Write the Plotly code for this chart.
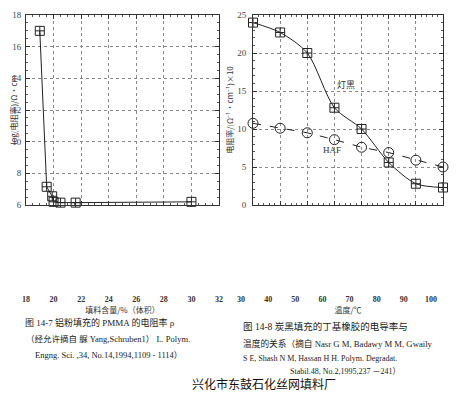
import plotly.graph_objects as go

# ---------------- data ----------------
# Left chart: Al-powder filled PMMA, log(resistivity) vs filler content
filler_pct = [19.0, 19.5, 19.9, 20.0, 20.5, 21.6, 30.0]
log_resistivity = [17.0, 7.15, 6.55, 6.2, 6.15, 6.15, 6.2]
left_x_ticks = [18, 20, 22, 24, 26, 28, 30, 32]
left_y_ticks = [6, 8, 10, 12, 14, 16, 18]

# Right chart: carbon-black filled butyl rubber, conductivity vs temperature
temperature_c = [30, 40, 50, 60, 70, 80, 90, 100]
lamp_black = [24.0, 22.7, 20.0, 12.8, 10.0, 5.6, 2.8, 2.3]
haf = [10.75, 10.1, 9.5, 8.6, 7.6, 6.9, 5.9, 5.0]
right_x_ticks = [30, 40, 50, 60, 70, 80, 90, 100]
right_y_ticks = [0, 5, 10, 15, 20, 25]

left_x_title = "填料含量/%（体积）"
left_y_title = "log(电阻率)/Ω·cm"
right_x_title = "温度/℃"
right_y_title = "电阻率/(Ω⁻¹·cm⁻¹)×10"

left_caption = [
    "图 14-7 铝粉填充的 PMMA 的电阻率 ρ",
    "（经允许摘自 脲 Yang,Schruben1） L. Polym.",
    "Engng. Sci. ,34, No.14,1994,1109 - 1114）",
]
right_caption = [
    "图 14-8 炭黑填充的丁基橡胶的电导率与",
    "温度的关系（摘自 Nasr G M, Badawy M M, Gwaily",
    "S E, Shash N M, Hassan H H. Polym. Degradat.",
    "Stabil.48, No.2,1995,237 －241）",
]
footer = "兴化市东鼓石化丝网填料厂"

# page has an 8px body margin before the figure
OFF = 8
W, H = 466 - OFF, 394 - OFF


def px(x):
    return (x - OFF) / W


def py(y):
    return 1 - (y - OFF) / H


SERIF = "Liberation Serif, Noto Sans CJK SC, serif"
CJK = "Noto Sans CJK SC, Liberation Serif"

fig = go.Figure()

fig.add_trace(go.Scatter(
    x=filler_pct, y=log_resistivity, mode="lines+markers",
    line=dict(color="#222", width=1),
    marker=dict(symbol="square-cross-open", size=9, color="#222", line=dict(width=1)),
    xaxis="x", yaxis="y", cliponaxis=False, showlegend=False, name="PMMA",
))
fig.add_trace(go.Scatter(
    x=temperature_c, y=lamp_black, mode="lines+markers",
    line=dict(color="#222", width=1, shape="spline", smoothing=0.8),
    marker=dict(symbol="square-cross-open", size=9, color="#222", line=dict(width=1)),
    xaxis="x2", yaxis="y2", cliponaxis=False, showlegend=False, name="灯黑",
))
fig.add_trace(go.Scatter(
    x=temperature_c, y=haf, mode="lines+markers",
    line=dict(color="#222", width=1, dash="8px,9px"),
    marker=dict(symbol="circle-open", size=10, color="#222", line=dict(width=1)),
    xaxis="x2", yaxis="y2", cliponaxis=False, showlegend=False, name="HAF",
))

common = dict(
    showline=True, linecolor="#333", linewidth=1, mirror="ticks",
    ticks="inside", ticklen=4, tickcolor="#333",
    showgrid=True, gridcolor="#8a8a8a", griddash="dot", gridwidth=1,
    zeroline=False, automargin=False,
)
xtickfont = dict(family=SERIF, size=8, color="#333", weight="bold")
ytickfont = dict(family=SERIF, size=9, color="#444")

fig.update_layout(
    width=W, height=H, margin=dict(l=0, r=0, t=0, b=0),
    paper_bgcolor="white", plot_bgcolor="white",
    xaxis=dict(
        common, domain=[px(26), px(219)], anchor="y", range=[18, 32],
        tickvals=left_x_ticks, ticktext=[str(v) for v in left_x_ticks],
        tickfont=xtickfont, ticklabelstandoff=86,
        minor=dict(ticks="inside", ticklen=2, tickcolor="#555", dtick=0.5, showgrid=False),
        title=dict(text=left_x_title, font=dict(family=CJK, size=8, color="#333"), standoff=3),
    ),
    yaxis=dict(
        common, domain=[py(205), py(15)], anchor="x", range=[6, 18],
        tickvals=left_y_ticks, ticktext=[str(v) for v in left_y_ticks],
        tickfont=ytickfont, ticklabelstandoff=2,
        minor=dict(ticks="inside", ticklen=2, tickcolor="#555", dtick=0.5, showgrid=False),
        title=dict(text=left_y_title, font=dict(family=CJK, size=8, color="#333"), standoff=0),
    ),
    xaxis2=dict(
        common, domain=[px(253), px(443)], anchor="y2", range=[30, 100],
        tickvals=right_x_ticks, ticktext=[str(v) for v in right_x_ticks],
        tickfont=xtickfont, ticklabelstandoff=86, ticklabelshift=-12,
        minor=dict(ticks="inside", ticklen=2, tickcolor="#555", dtick=2, showgrid=False),
        title=dict(text=right_x_title, font=dict(family=CJK, size=8, color="#333"), standoff=3),
    ),
    yaxis2=dict(
        common, domain=[py(205), py(15)], anchor="x2", range=[0, 25],
        tickvals=right_y_ticks, ticktext=[str(v) for v in right_y_ticks],
        tickfont=ytickfont, ticklabelstandoff=4,
        minor=dict(ticks="inside", ticklen=2, tickcolor="#555", dtick=1, showgrid=False),
        title=dict(text=right_y_title, font=dict(family=CJK, size=8, color="#333"), standoff=2),
    ),
)

# in-chart series labels
fig.add_annotation(x=64.3, y=15.8, xref="x2", yref="y2", text="灯黑", showarrow=False,
                   font=dict(family=CJK, size=9, color="#333"))
fig.add_annotation(x=59.1, y=7.2, xref="x2", yref="y2", text="HAF", showarrow=False,
                   font=dict(family=SERIF, size=9, color="#333"))

# captions
left_pos = [(23, 322, 9), (24, 339, 8.5), (33, 355, 8.5)]
for txt, (x0, y0, fs) in zip(left_caption, left_pos):
    fig.add_annotation(x=px(x0), y=py(y0), xref="paper", yref="paper", text=txt,
                       showarrow=False, xanchor="left", yanchor="middle",
                       font=dict(family=SERIF, size=fs, color="#222"))
right_pos = [(241, 326, 9.5), (241, 343, 8.7), (241, 358, 8), (288, 371, 8)]
for txt, (x0, y0, fs) in zip(right_caption, right_pos):
    fig.add_annotation(x=px(x0), y=py(y0), xref="paper", yref="paper", text=txt,
                       showarrow=False, xanchor="left", yanchor="middle",
                       font=dict(family=SERIF, size=fs, color="#222"))

fig.add_annotation(x=px(264), y=py(383), xref="paper", yref="paper", text=footer,
                   showarrow=False, xanchor="center", yanchor="middle",
                   font=dict(family=CJK, size=12, color="#111"))

fig.write_html("out.html")
